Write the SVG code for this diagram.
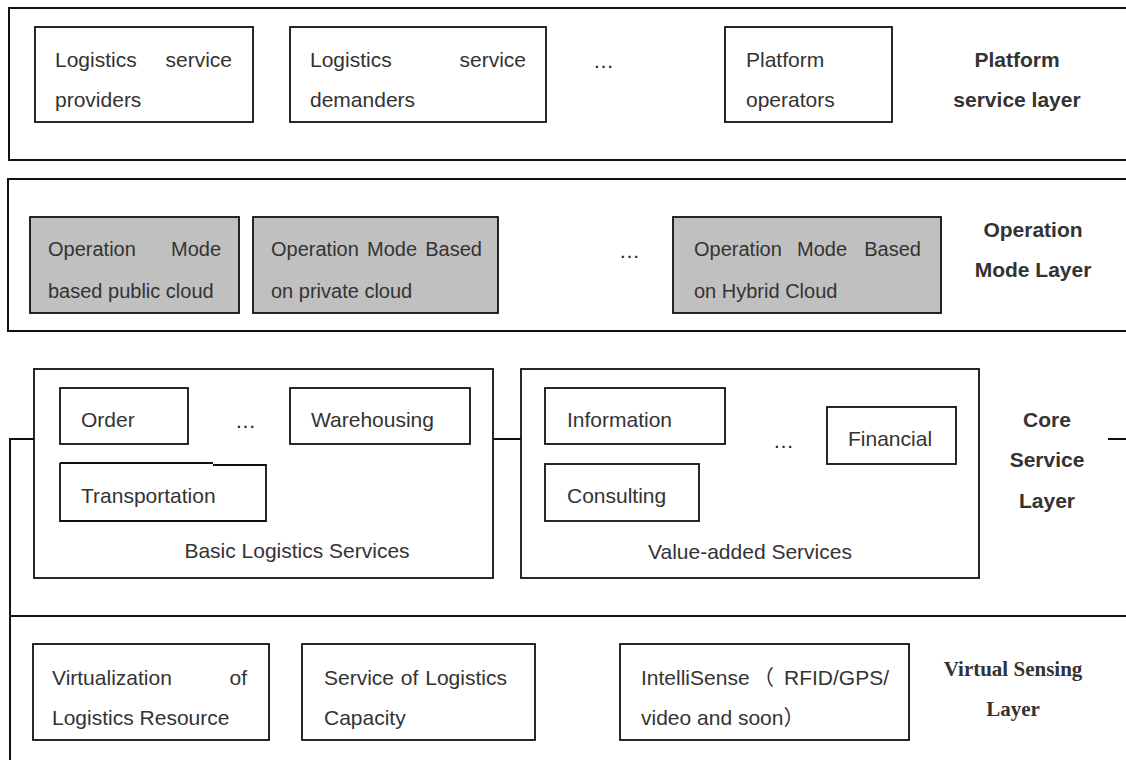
<svg xmlns="http://www.w3.org/2000/svg" width="1126" height="760" viewBox="0 0 1126 760">
  <style>
    .layer { fill: none; stroke: #111; stroke-width: 2; }
    .box { fill: #fff; stroke: #111; stroke-width: 1.8; }
    .gbox { fill: #c0c0c0; stroke: #111; stroke-width: 1.8; }
    .wire { fill: none; stroke: #111; stroke-width: 2; }
    .t { font-family: "Liberation Sans", Arial, sans-serif; font-size: 21px; fill: #333; }
    .tm { font-family: "Liberation Sans", Arial, sans-serif; font-size: 20px; fill: #333; }
    .tc { font-family: "Liberation Sans", Arial, "Noto Sans CJK SC", sans-serif; font-size: 21px; fill: #333; }
    .lbl { font-family: "Liberation Sans", Arial, sans-serif; font-size: 21px; font-weight: bold; fill: #333; text-anchor: middle; }
    .lbls { font-family: "Liberation Serif", "Times New Roman", serif; font-size: 21px; font-weight: bold; fill: #333; text-anchor: middle; }
    .dots { font-family: "Liberation Sans", Arial, sans-serif; font-size: 21px; fill: #222; }
    .mid { text-anchor: middle; }
    .end { text-anchor: end; }
  </style>
  <rect width="1126" height="760" fill="#fff"/>

  <!-- Platform service layer -->
  <g id="platform-layer">
    <rect class="layer" x="9" y="8" width="1130" height="152"/>
    <text class="lbl" x="1017" y="67">Platform</text>
    <text class="lbl" x="1017" y="107">service layer</text>
  </g>
  <g id="service-providers">
    <rect class="box" x="35" y="27" width="218" height="95"/>
    <text class="t" x="55" y="67">Logistics</text>
    <text class="t end" x="232" y="67">service</text>
    <text class="t" x="55" y="107">providers</text>
  </g>
  <g id="service-demanders">
    <rect class="box" x="290" y="27" width="256" height="95"/>
    <text class="t" x="310" y="67">Logistics</text>
    <text class="t end" x="526" y="67">service</text>
    <text class="t" x="310" y="107">demanders</text>
  </g>
  <text class="dots" x="593" y="68">…</text>
  <g id="platform-operators">
    <rect class="box" x="725" y="27" width="167" height="95"/>
    <text class="t" x="746" y="67">Platform</text>
    <text class="t" x="746" y="107">operators</text>
  </g>

  <!-- Operation mode layer -->
  <g id="operation-layer">
    <rect class="layer" x="8" y="179" width="1130" height="152"/>
    <text class="lbl" x="1033" y="237">Operation</text>
    <text class="lbl" x="1033" y="277">Mode Layer</text>
  </g>
  <g id="mode-public">
    <rect class="gbox" x="30" y="217" width="209" height="96"/>
    <text class="tm" x="48" y="256">Operation</text>
    <text class="tm end" x="221" y="256">Mode</text>
    <text class="tm" x="48" y="298">based public cloud</text>
  </g>
  <g id="mode-private">
    <rect class="gbox" x="253" y="217" width="245" height="96"/>
    <text class="tm" x="271" y="256">Operation</text>
    <text class="tm" x="367" y="256">Mode</text>
    <text class="tm end" x="482" y="256">Based</text>
    <text class="tm" x="271" y="298">on private cloud</text>
  </g>
  <text class="dots" x="619" y="258">…</text>
  <g id="mode-hybrid">
    <rect class="gbox" x="673" y="217" width="268" height="96"/>
    <text class="tm" x="694" y="256">Operation</text>
    <text class="tm" x="797" y="256">Mode</text>
    <text class="tm end" x="921" y="256">Based</text>
    <text class="tm" x="694" y="298">on Hybrid Cloud</text>
  </g>

  <!-- Core service layer links -->
  <g id="connectors">
    <path class="wire" d="M10 760 V439 H34"/>
    <path class="wire" d="M493 439 H521"/>
    <path class="wire" d="M1108 439 H1126"/>
  </g>

  <g id="core-label">
    <text class="lbl" x="1047" y="427">Core</text>
    <text class="lbl" x="1047" y="467">Service</text>
    <text class="lbl" x="1047" y="508">Layer</text>
  </g>

  <g id="basic-services">
    <rect class="box" x="34" y="369" width="459" height="209"/>
    <text class="t mid" x="297" y="558">Basic Logistics Services</text>
  </g>
  <g id="order">
    <rect class="box" x="60" y="388" width="128" height="56"/>
    <text class="t" x="81" y="427">Order</text>
  </g>
  <text class="dots" x="235" y="428">…</text>
  <g id="warehousing">
    <rect class="box" x="290" y="388" width="180" height="56"/>
    <text class="t" x="311" y="427">Warehousing</text>
  </g>
  <g id="transportation">
    <path fill="#fff" d="M60 463 H266 V521 H60 Z"/>
    <path class="wire" style="stroke-width:1.8" d="M60 463 H213 M213 465 H266 V521 H60 V463"/>
    <text class="t" x="81" y="503">Transportation</text>
  </g>

  <g id="value-added-services">
    <rect class="box" x="521" y="369" width="458" height="209"/>
    <text class="t mid" x="750" y="559">Value-added Services</text>
  </g>
  <g id="information">
    <rect class="box" x="545" y="388" width="180" height="56"/>
    <text class="t" x="567" y="427">Information</text>
  </g>
  <g id="consulting">
    <rect class="box" x="545" y="464" width="154" height="57"/>
    <text class="t" x="567" y="503">Consulting</text>
  </g>
  <text class="dots" x="773" y="448">…</text>
  <g id="financial">
    <rect class="box" x="827" y="407" width="129" height="57"/>
    <text class="t" x="848" y="446">Financial</text>
  </g>

  <!-- Virtual sensing layer -->
  <g id="sensing-layer">
    <path class="layer" d="M10 616 H1126"/>
    <text class="lbls" x="1013" y="676">Virtual Sensing</text>
    <text class="lbls" x="1013" y="716">Layer</text>
  </g>
  <g id="resource-virtualization">
    <rect class="box" x="33" y="644" width="236" height="96"/>
    <text class="t" x="52" y="685">Virtualization</text>
    <text class="t end" x="247" y="685">of</text>
    <text class="t" x="52" y="725">Logistics Resource</text>
  </g>
  <g id="capacity-service">
    <rect class="box" x="302" y="644" width="233" height="96"/>
    <text class="t" x="324" y="685" word-spacing="1">Service of Logistics</text>
    <text class="t" x="324" y="725">Capacity</text>
  </g>
  <g id="intellisense">
    <rect class="box" x="620" y="644" width="289" height="96"/>
    <text class="tc" x="641" y="685">IntelliSense</text>
    <text class="tc" x="753" y="685">（</text>
    <text class="tc end" x="889" y="685">RFID/GPS/</text>
    <text class="tc" x="641" y="725">video and soon）</text>
  </g>
</svg>
